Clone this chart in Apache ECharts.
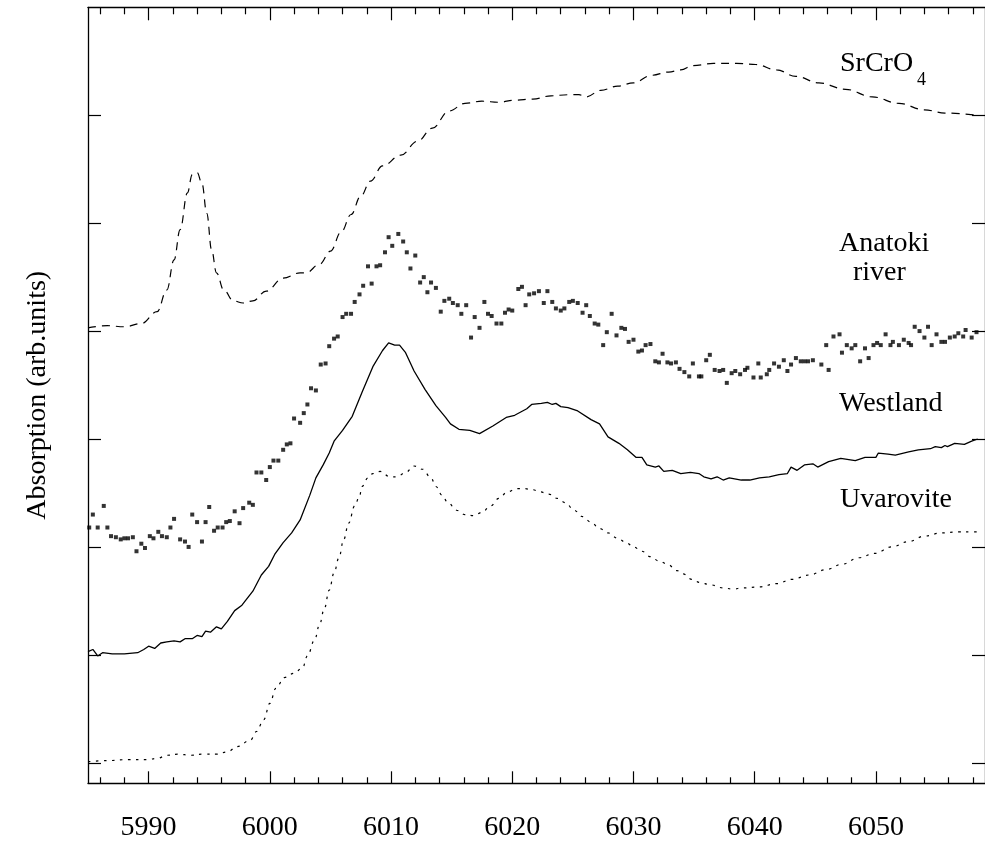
<!DOCTYPE html>
<html>
<head>
<meta charset="utf-8">
<script src="https://cdn.jsdelivr.net/npm/echarts@6/dist/echarts.min.js"></script>
<style>
  html, body { margin: 0; padding: 0; background: #fff; }
  #chart { width: 985px; height: 842px; }
</style>
</head>
<body>
<div id="chart"></div>
<script>
// Cr K-edge XANES spectra, energy in eV, absorption in arbitrary (offset) units

// x-axis tick labels
const energyTicks = [5990, 6000, 6010, 6020, 6030, 6040, 6050];
// y-axis tick positions (no labels drawn)
const absTicks = [0, 1, 2, 3, 4, 5, 6];

// SrCrO4 reference (dashed)
const srcroE = [5985.0,5986.6,5988.0,5989.4,5990.7,5991.5,5992.1,5992.6,5993.2,5993.6,
  5994.0,5994.4,5994.8,5995.2,5995.6,5996.2,5997.0,5997.8,5998.6,5999.7,
  6001.1,6002.5,6003.0,6004.1,6005.0,6005.9,6006.7,6007.5,6008.3,6009.3,
  6010.8,6012.2,6013.4,6014.8,6016.1,6017.5,6018.9,6020.2,6021.7,6023.2,
  6024.6,6025.5,6026.1,6027.3,6028.7,6030.0,6031.5,6032.9,6033.9,6034.9,
  6036.6,6038.5,6040.1,6041.8,6043.4,6045.3,6047.5,6049.7,6051.9,6054.0,
  6055.7,6058.4];
const srcroA = [4.03,4.05,4.04,4.07,4.18,4.38,4.66,4.94,5.28,5.45,
  5.47,5.37,5.09,4.75,4.54,4.38,4.28,4.26,4.28,4.37,
  4.49,4.54,4.54,4.62,4.74,4.92,5.08,5.25,5.39,5.53,
  5.63,5.76,5.88,6.04,6.11,6.13,6.12,6.14,6.15,6.18,
  6.19,6.19,6.17,6.23,6.27,6.30,6.37,6.40,6.42,6.46,
  6.48,6.48,6.47,6.42,6.36,6.30,6.24,6.17,6.11,6.05,
  6.02,6.00];

// Anatoki river sample (points)
const anatokiE = [5985.1,5985.4,5985.8,5986.3,5986.6,5986.9,5987.3,5987.7,5988.0,5988.3,
  5988.7,5989.0,5989.4,5989.7,5990.1,5990.4,5990.8,5991.1,5991.5,5991.8,
  5992.1,5992.6,5993.0,5993.3,5993.6,5994.0,5994.4,5994.7,5995.0,5995.4,
  5995.7,5996.1,5996.4,5996.7,5997.1,5997.5,5997.8,5998.3,5998.6,5998.9,
  5999.3,5999.7,6000.0,6000.3,6000.7,6001.1,6001.4,6001.7,6002.0,6002.5,
  6002.8,6003.1,6003.4,6003.8,6004.2,6004.6,6004.9,6005.3,6005.6,6006.0,
  6006.3,6006.7,6007.0,6007.4,6007.7,6008.1,6008.4,6008.8,6009.1,6009.5,
  6009.8,6010.1,6010.6,6011.0,6011.3,6011.6,6012.0,6012.4,6012.7,6013.0,
  6013.3,6013.7,6014.1,6014.4,6014.8,6015.1,6015.5,6015.8,6016.2,6016.6,
  6016.9,6017.3,6017.7,6018.0,6018.3,6018.7,6019.1,6019.4,6019.7,6020.0,
  6020.5,6020.8,6021.1,6021.4,6021.8,6022.2,6022.6,6022.9,6023.3,6023.6,
  6024.0,6024.3,6024.7,6025.0,6025.4,6025.8,6026.1,6026.4,6026.8,6027.1,
  6027.5,6027.8,6028.2,6028.6,6029.0,6029.3,6029.6,6030.0,6030.4,6030.7,
  6031.0,6031.4,6031.8,6032.1,6032.4,6032.8,6033.1,6033.5,6033.8,6034.2,
  6034.6,6034.9,6035.4,6035.6,6036.0,6036.3,6036.7,6037.1,6037.4,6037.7,
  6038.1,6038.4,6038.8,6039.2,6039.4,6039.9,6040.3,6040.5,6041.0,6041.2,
  6041.6,6042.0,6042.4,6042.7,6043.0,6043.4,6043.8,6044.1,6044.4,6044.8,
  6045.5,6045.9,6046.1,6046.5,6047.0,6047.2,6047.6,6048.0,6048.3,6048.7,
  6049.1,6049.4,6049.8,6050.1,6050.4,6050.8,6051.2,6051.4,6051.9,6052.3,
  6052.7,6052.9,6053.2,6053.6,6054.0,6054.3,6054.6,6055.0,6055.4,6055.7,
  6056.1,6056.5,6056.8,6057.2,6057.4,6057.9,6058.3];
const anatokiA = [2.18,2.30,2.18,2.38,2.18,2.10,2.09,2.07,2.08,2.08,
  2.09,1.96,2.03,1.99,2.10,2.08,2.14,2.10,2.09,2.18,
  2.26,2.07,2.05,2.00,2.30,2.23,2.05,2.23,2.37,2.15,
  2.18,2.18,2.23,2.24,2.33,2.22,2.36,2.41,2.39,2.69,
  2.69,2.62,2.74,2.80,2.80,2.90,2.95,2.96,3.19,3.15,
  3.24,3.32,3.47,3.45,3.69,3.70,3.86,3.93,3.95,4.13,
  4.16,4.16,4.27,4.34,4.42,4.60,4.44,4.60,4.61,4.73,
  4.87,4.79,4.90,4.83,4.73,4.58,4.70,4.45,4.50,4.36,
  4.45,4.40,4.18,4.28,4.30,4.26,4.24,4.16,4.24,3.94,
  4.13,4.03,4.27,4.16,4.14,4.07,4.07,4.17,4.20,4.19,
  4.39,4.41,4.24,4.34,4.35,4.37,4.26,4.37,4.27,4.21,
  4.19,4.21,4.27,4.28,4.26,4.17,4.24,4.14,4.07,4.06,
  3.87,3.99,4.16,3.96,4.03,4.02,3.90,3.92,3.81,3.82,
  3.87,3.88,3.72,3.71,3.79,3.71,3.70,3.71,3.65,3.62,
  3.58,3.70,3.58,3.58,3.73,3.78,3.64,3.63,3.64,3.52,
  3.61,3.63,3.60,3.64,3.66,3.57,3.70,3.57,3.60,3.64,
  3.70,3.67,3.73,3.63,3.69,3.75,3.72,3.72,3.72,3.73,
  3.69,3.87,3.64,3.95,3.97,3.80,3.87,3.84,3.87,3.72,
  3.84,3.75,3.87,3.89,3.87,3.97,3.87,3.90,3.87,3.92,
  3.89,3.87,4.04,4.00,3.94,4.04,3.87,3.97,3.90,3.90,
  3.94,3.95,3.98,3.95,4.01,3.94,3.99];

// Westland sample (solid)
const westlandE = [5985.0,5985.4,5985.8,5986.2,5987.0,5988.0,5989.1,5989.6,5990.0,5990.5,
  5991.0,5991.5,5992.1,5992.6,5993.0,5993.6,5994.0,5994.4,5994.7,5995.1,
  5995.6,5996.0,5996.5,5997.1,5997.7,5998.6,5999.3,5999.9,6000.4,6001.1,
  6001.8,6002.5,6003.3,6003.8,6004.4,6004.9,6005.3,6006.0,6006.8,6007.6,
  6008.5,6009.3,6009.8,6010.3,6010.7,6011.2,6011.9,6012.8,6013.7,6014.5,
  6014.9,6015.6,6016.5,6017.3,6018.4,6019.5,6020.2,6021.2,6021.6,6022.4,
  6022.9,6023.3,6023.6,6024.0,6024.6,6025.4,6026.5,6027.2,6027.9,6028.8,
  6029.5,6030.2,6030.7,6031.1,6031.8,6032.1,6032.5,6033.2,6033.9,6034.7,
  6035.4,6035.8,6036.4,6036.9,6037.4,6037.9,6038.9,6039.6,6040.4,6041.2,
  6042.0,6042.7,6043.0,6043.5,6044.1,6044.8,6045.2,6046.1,6047.1,6048.3,
  6049.1,6050.0,6050.2,6051.0,6051.6,6052.7,6053.5,6054.5,6054.9,6055.4,
  6055.7,6055.9,6056.5,6057.3,6057.9,6058.4];
const westlandA = [1.03,1.05,0.99,1.02,1.01,1.01,1.02,1.05,1.08,1.06,
  1.11,1.12,1.13,1.12,1.15,1.15,1.18,1.17,1.22,1.21,
  1.26,1.24,1.31,1.41,1.46,1.59,1.74,1.82,1.93,2.04,
  2.13,2.25,2.48,2.64,2.76,2.87,2.98,3.08,3.21,3.43,
  3.67,3.82,3.89,3.87,3.87,3.80,3.63,3.46,3.31,3.20,
  3.14,3.09,3.08,3.05,3.12,3.20,3.22,3.28,3.32,3.33,
  3.34,3.32,3.33,3.30,3.29,3.26,3.18,3.14,3.02,2.96,
  2.90,2.83,2.83,2.76,2.74,2.75,2.70,2.71,2.68,2.69,
  2.68,2.65,2.63,2.65,2.62,2.64,2.62,2.62,2.64,2.65,
  2.67,2.68,2.74,2.71,2.76,2.77,2.74,2.79,2.82,2.80,
  2.83,2.83,2.87,2.86,2.85,2.88,2.90,2.91,2.93,2.92,
  2.94,2.93,2.96,2.95,2.98,3.00];

// Uvarovite reference (dotted)
const uvaroviteE = [5985.0,5986.6,5988.3,5989.9,5990.7,5991.5,5992.4,5993.5,5994.5,5995.6,
  5996.5,5997.3,5998.4,5998.9,5999.5,6000.0,6000.5,6001.2,6002.0,6002.7,
  6003.1,6003.7,6004.1,6004.5,6004.9,6005.3,6005.7,6006.1,6006.5,6007.0,
  6007.4,6007.6,6008.1,6008.5,6009.1,6009.9,6010.5,6011.2,6011.9,6012.6,
  6013.3,6013.7,6014.2,6014.7,6015.4,6016.1,6016.8,6017.5,6018.2,6018.9,
  6019.6,6020.4,6021.0,6021.7,6022.3,6023.0,6023.7,6024.4,6025.1,6025.8,
  6026.5,6027.2,6027.9,6028.7,6029.4,6030.0,6030.7,6031.4,6032.1,6032.8,
  6033.6,6034.1,6034.8,6035.5,6036.3,6037.4,6038.2,6039.0,6040.4,6041.8,
  6043.1,6044.5,6045.9,6047.2,6048.6,6049.9,6051.3,6052.7,6054.0,6055.4,
  6056.8,6058.0,6058.4];
const uvaroviteA = [0.01,0.02,0.03,0.03,0.04,0.07,0.08,0.07,0.08,0.08,
  0.10,0.15,0.21,0.29,0.40,0.55,0.69,0.79,0.83,0.88,
  0.99,1.14,1.28,1.43,1.60,1.76,1.90,2.07,2.22,2.38,
  2.47,2.56,2.64,2.68,2.70,2.65,2.65,2.69,2.75,2.72,
  2.64,2.56,2.48,2.41,2.34,2.30,2.29,2.32,2.38,2.45,
  2.51,2.54,2.54,2.53,2.51,2.49,2.45,2.41,2.34,2.28,
  2.23,2.17,2.13,2.08,2.04,2.00,1.96,1.91,1.87,1.84,
  1.78,1.75,1.70,1.67,1.65,1.62,1.61,1.62,1.63,1.66,
  1.70,1.74,1.79,1.84,1.90,1.94,2.00,2.05,2.10,2.13,
  2.14,2.14,2.14];

const zip = (xs, ys) => xs.map((x, i) => [x, ys[i]]);

const FONT = "'Liberation Serif', 'Times New Roman', Times, serif";
const X_MIN = 5985, X_MAX = 6059;
const Y_MIN = -0.19, Y_MAX = 7.0;

// minor ticks every 2 eV between the labelled ones
const minorTicks = [];
for (let e = 5986; e <= 6058; e += 2) if (e % 10 !== 0) minorTicks.push(e);

const lineStyleAxis = { color: '#000', width: 1.3 };

function xAxisDef(position, ticks, len, withLine, withLabels) {
  return {
    type: 'value', position, min: X_MIN, max: X_MAX,
    axisLine: { show: withLine, onZero: false, lineStyle: lineStyleAxis },
    axisTick: { show: true, inside: true, length: len, customValues: ticks,
                lineStyle: { color: '#000', width: 1.2 } },
    axisLabel: withLabels ? {
      show: true, customValues: ticks, margin: 30,
      formatter: (v) => String(v),
      color: '#000', fontFamily: FONT, fontSize: 28
    } : { show: false },
    splitLine: { show: false }
  };
}

function yAxisDef(position, withName) {
  const ax = {
    type: 'value', position, min: Y_MIN, max: Y_MAX,
    axisLine: { show: true, onZero: false, lineStyle: lineStyleAxis },
    axisTick: { show: true, inside: true, length: 13, customValues: absTicks,
                lineStyle: { color: '#000', width: 1.2 } },
    axisLabel: { show: false },
    splitLine: { show: false }
  };
  if (withName) {
    Object.assign(ax, {
      name: 'Absorption (arb.units)', nameLocation: 'middle', nameGap: 36,
      nameRotate: 90,
      nameTextStyle: { color: '#000', fontFamily: FONT, fontSize: 28 }
    });
  }
  return ax;
}

const chart = echarts.init(document.getElementById('chart'), null, { renderer: 'canvas' });

const labelText = (text, x, y, size) => ({
  type: 'text', x, y, silent: true,
  style: { text, fill: '#000', font: `${size}px ${FONT}`,
           textAlign: 'left', textVerticalAlign: 'middle' }
});

chart.setOption({
  animation: false,
  backgroundColor: '#fff',
  grid: { left: 88, top: 7.3, width: 904, height: 776 },
  xAxis: [
    xAxisDef('bottom', energyTicks, 12, true, true),
    xAxisDef('bottom', minorTicks, 6, false, false),
    xAxisDef('top', energyTicks, 13, true, false),
    xAxisDef('top', minorTicks, 7, false, false)
  ],
  yAxis: [yAxisDef('left', true), yAxisDef('right', false)],
  series: [
    {
      name: 'SrCrO4', type: 'line', data: zip(srcroE, srcroA),
      showSymbol: false, smooth: 0.4, smoothMonotone: 'x',
      lineStyle: { color: '#000', width: 1.2, type: [8, 6] }
    },
    {
      name: 'Anatoki river', type: 'scatter', data: zip(anatokiE, anatokiA),
      symbol: 'rect', symbolSize: 4,
      itemStyle: { color: '#000' }
    },
    {
      name: 'Westland', type: 'line', data: zip(westlandE, westlandA),
      showSymbol: false,
      lineStyle: { color: '#000', width: 1.3 }
    },
    {
      name: 'Uvarovite', type: 'line', data: zip(uvaroviteE, uvaroviteA),
      showSymbol: false, smooth: 0.4, smoothMonotone: 'x',
      lineStyle: { color: '#000', width: 1.2, type: [2.5, 5.5] }
    }
  ],
  graphic: [
    labelText('SrCrO', 840, 64, 28),
    labelText('4', 917, 80, 18),
    labelText('Anatoki', 839, 244, 28),
    labelText('river', 853, 273, 28),
    labelText('Westland', 839, 404, 28),
    labelText('Uvarovite', 840, 500, 28)
  ]
});
</script>
</body>
</html>
